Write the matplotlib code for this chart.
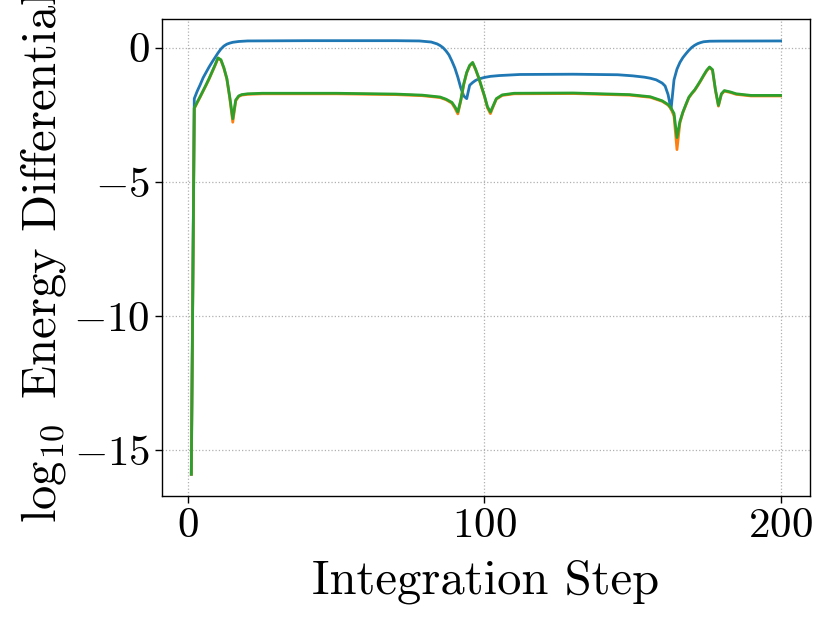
import matplotlib
matplotlib.use("Agg")
import matplotlib.pyplot as plt

plt.rcParams['font.family'] = ['cmr10', 'DejaVu Serif']
plt.rcParams['mathtext.fontset'] = 'cm'
plt.rcParams['axes.formatter.use_mathtext'] = True
plt.rcParams['axes.unicode_minus'] = True

blue_x = [1, 2, 3, 4, 5, 6, 7, 8, 9, 10, 11, 12, 13, 14, 15, 17, 20, 40, 70, 78, 82, 84, 85, 86, 87, 88, 89, 90, 91, 92, 93, 94, 95, 96, 97, 98, 100, 102, 105, 112, 130, 145, 150, 154, 156, 158, 159, 160, 161, 162, 163, 164, 165, 166, 167, 168, 169, 170, 171, 172, 173, 174, 176, 180, 200]
blue_y = [-15.9, -1.9, -1.62, -1.38, -1.12, -0.92, -0.72, -0.54, -0.37, -0.2, -0.05, 0.06, 0.13, 0.17, 0.2, 0.23, 0.25, 0.26, 0.26, 0.25, 0.21, 0.14, 0.08, 0.0, -0.12, -0.27, -0.5, -0.76, -1.1, -1.5, -1.8, -1.9, -1.4, -1.3, -1.22, -1.17, -1.11, -1.07, -1.04, -1.0, -0.99, -1.01, -1.05, -1.1, -1.14, -1.2, -1.26, -1.32, -1.43, -1.75, -2.3, -1.2, -0.8, -0.55, -0.37, -0.23, -0.1, 0.01, 0.09, 0.15, 0.19, 0.22, 0.24, 0.245, 0.25]

green_x = [1, 2, 3, 4, 5, 6, 7, 8, 9, 10, 11, 12, 13, 14, 15, 16, 17, 18, 20, 25, 50, 70, 79, 85, 87, 89, 90, 91, 92, 93, 94, 95, 96, 97, 98, 99, 100, 101, 102, 103, 104, 106, 110, 130, 149, 156, 160, 162, 163, 164, 165, 166, 167, 168, 169, 170, 171, 172, 173, 174, 175, 176, 177, 178, 179, 180, 181, 183, 185, 190, 200]
green_y = [-15.9, -2.25, -2.03, -1.82, -1.6, -1.38, -1.15, -0.9, -0.65, -0.38, -0.45, -0.75, -1.15, -1.85, -2.65, -1.95, -1.8, -1.75, -1.72, -1.7, -1.7, -1.73, -1.77, -1.84, -1.92, -2.04, -2.2, -2.4, -1.95, -1.35, -0.92, -0.66, -0.55, -0.8, -1.1, -1.45, -1.8, -2.2, -2.4, -2.15, -1.9, -1.76, -1.7, -1.69, -1.75, -1.83, -1.98, -2.12, -2.25, -2.45, -3.35, -2.75, -2.4, -2.12, -1.85, -1.7, -1.57, -1.4, -1.22, -1.03, -0.85, -0.72, -0.82, -1.57, -2.15, -1.72, -1.6, -1.65, -1.72, -1.78, -1.78]

orange_x = green_x
orange_y = [-15.9, -2.27, -2.05, -1.84, -1.62, -1.4, -1.17, -0.92, -0.67, -0.4, -0.47, -0.77, -1.17, -1.9, -2.78, -1.98, -1.82, -1.77, -1.74, -1.72, -1.72, -1.75, -1.79, -1.86, -1.94, -2.07, -2.25, -2.47, -1.98, -1.37, -0.94, -0.68, -0.57, -0.82, -1.12, -1.47, -1.82, -2.24, -2.46, -2.18, -1.92, -1.78, -1.72, -1.71, -1.77, -1.85, -2.0, -2.14, -2.28, -2.55, -3.8, -2.8, -2.42, -2.14, -1.87, -1.72, -1.59, -1.42, -1.24, -1.05, -0.87, -0.74, -0.84, -1.6, -2.18, -1.74, -1.62, -1.67, -1.74, -1.8, -1.8]

xticks = [0, 100, 200]
yticks = [0, -5, -10, -15]

fig = plt.figure(figsize=(8.3, 6.23), dpi=100)
ax = fig.add_axes([0.195, 0.204, 0.781, 0.7655])
ax.plot(blue_x, blue_y, color='tab:blue', lw=2)
ax.plot(orange_x, orange_y, color='tab:orange', lw=2)
ax.plot(green_x, green_y, color='tab:green', lw=2)
ax.set_xticks(xticks)
ax.set_yticks(yticks)
ax.grid(True, linestyle=':', color='#b0b0b0', linewidth=0.9)
ax.tick_params(labelsize=31, width=1.0, length=5)
ax.set_xlabel('Integration Step', fontsize=35, labelpad=10)
ax.set_ylabel(r'$\log_{10}$ Energy Differential', fontsize=35)
for s in ax.spines.values():
    s.set_linewidth(1.0)
fig.savefig('out.png', dpi=100)
